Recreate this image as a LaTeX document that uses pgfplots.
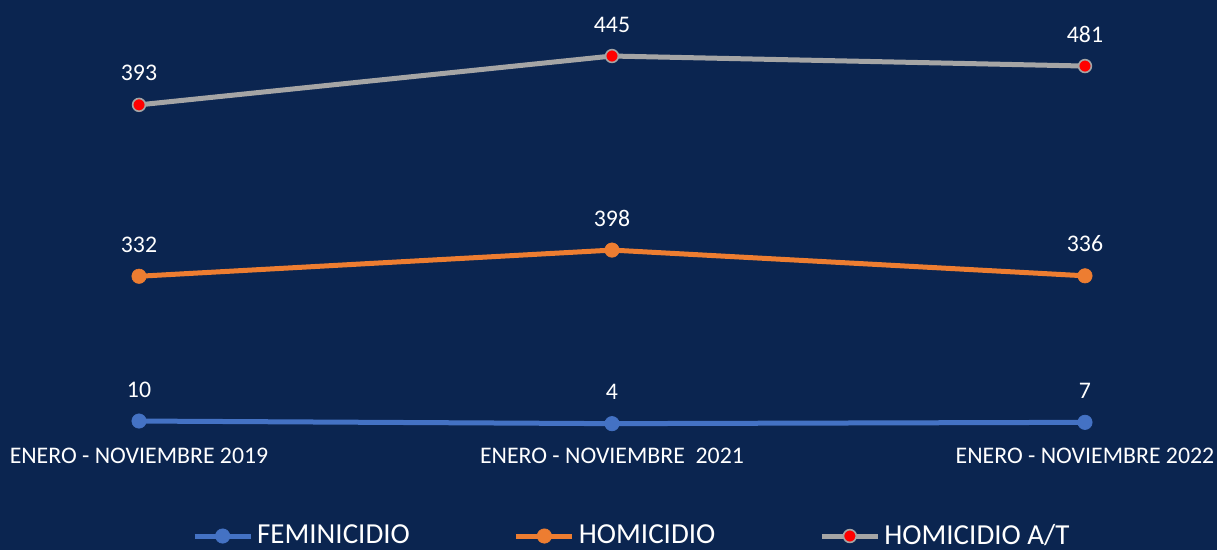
\documentclass[border=0pt]{standalone}
\usepackage{pgfplots}
\pgfplotsset{compat=1.18}
\usepackage{fontspec}
\setmainfont{Carlito}
\definecolor{bgnavy}{HTML}{0B2550}
\definecolor{femblue}{HTML}{4472C4}
\definecolor{homorange}{HTML}{ED7D31}
\definecolor{atgray}{HTML}{A5A5A5}

\begin{document}
\begin{tikzpicture}
\begin{axis}[scale only axis, width=608.5pt, height=275pt,
  xmin=-0.2939, xmax=2.2791, ymin=-285.7, ymax=975.5,
  stack plots=y,
  axis background/.style={fill=bgnavy},
  axis line style={draw=none},
  ytick=\empty, xtick={0,1,2},
  xticklabels={ENERO - NOVIEMBRE 2019, ENERO - NOVIEMBRE\ \ 2021, ENERO - NOVIEMBRE 2022},
  major tick length=0pt,
  xticklabel style={anchor=base, yshift=43pt, font=\fontsize{11.9}{14}\selectfont, text=white},
  point meta=explicit,
  nodes near coords,
  nodes near coords style={anchor=base, yshift=12pt, font=\fontsize{11.9}{14}\selectfont, text=white},
  /pgf/number format/assume math mode=true,
  legend columns=-1,
  legend style={draw=none, fill=none, text=white, font=\fontsize{14.5}{17}\selectfont,
    at={(rel axis cs:0.52,0)}, anchor=south, yshift=-3pt,
    /tikz/every even column/.append style={column sep=50pt}},
  legend image code/.code={\draw[mark repeat=2,mark phase=2,#1] plot coordinates {(0pt,0pt) (14pt,0pt) (28pt,0pt)};},
]
% stacked lines: each series' own value is also given as meta for its label
\addplot[femblue, line width=2.5pt, mark=*, mark size=3.6pt, mark options={solid, line width=0.3pt}]
  coordinates {(0,10) [10] (1,4) [4] (2,7) [7]};
\addlegendentry{FEMINICIDIO}
\addplot[homorange, line width=2.5pt, mark=*, mark size=3.6pt, mark options={solid, line width=0.3pt}]
  coordinates {(0,332) [332] (1,398) [398] (2,336) [336]};
\addlegendentry{HOMICIDIO}
\addplot[atgray, line width=2.5pt, mark=*, mark size=3.2pt, mark options={solid, fill=red, draw=atgray, line width=0.8pt}]
  coordinates {(0,393) [393] (1,445) [445] (2,481) [481]};
\addlegendentry{HOMICIDIO A/T}
\coordinate (sw) at (rel axis cs:0,0);
\coordinate (ne) at (rel axis cs:1,1);
\end{axis}
\pgfresetboundingbox
\path[use as bounding box] (sw) rectangle (ne);
\end{tikzpicture}
\end{document}
